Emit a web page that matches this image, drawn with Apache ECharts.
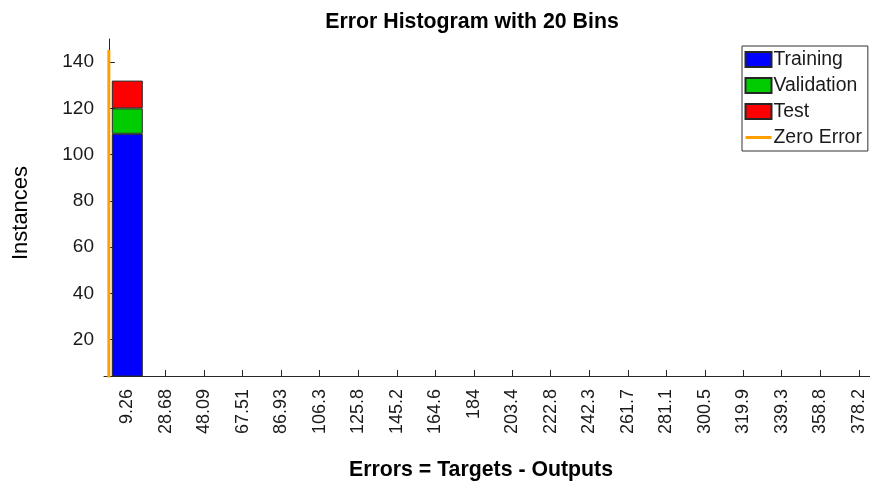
<!DOCTYPE html>
<html>
<head>
<meta charset="utf-8">
<script src="https://cdn.jsdelivr.net/npm/echarts@6/dist/echarts.min.js"></script>
<style>
html,body{margin:0;padding:0;background:#fff;}
#chart{width:870px;height:487px;}
</style>
</head>
<body>
<div id="chart"></div>
<script>
// Bin centers (tick labels) of the error histogram
var xTickLabels = ['9.26','28.68','48.09','67.51','86.93','106.3','125.8','145.2','164.6','184',
                   '203.4','222.8','242.3','261.7','281.1','300.5','319.9','339.3','358.8','378.2'];
var binCenters = xTickLabels.map(Number);
var training   = [109,0,0,0,0,0,0,0,0,0,0,0,0,0,0,0,0,0,0,0];
var validation = [11,0,0,0,0,0,0,0,0,0,0,0,0,0,0,0,0,0,0,0];
var test       = [12,0,0,0,0,0,0,0,0,0,0,0,0,0,0,0,0,0,0,0];
var yTicks = [20,40,60,80,100,120,140];
var zeroErrorLine = [[0,0],[0,145.2]];

var chart = echarts.init(document.getElementById('chart'), null, {renderer:'canvas'});
var fontFam = '"Liberation Sans", Arial, sans-serif';
var txt = '#1a1a1a';
var barBorder = {borderColor:'#262626', borderWidth:1};
var yMin = 4.25, yMax = 150;

chart.setOption({
  backgroundColor:'#fff',
  animation:false,
  title:{
    text:'Error Histogram with 20 Bins',
    left:467, top:7, textAlign:'center',
    textStyle:{fontFamily:fontFam, fontSize:21.3, fontWeight:'bold', color:'#000'}
  },
  legend:{
    orient:'vertical',
    left:742, top:46,
    padding:[4,6,4,2],
    itemGap:7,
    itemWidth:26, itemHeight:15,
    borderColor:'#333', borderWidth:1,
    backgroundColor:'#fff',
    textStyle:{fontFamily:fontFam, fontSize:19.4, color:txt, padding:[0,3,0,-3]},
    data:[
      {name:'Training', icon:'rect'},
      {name:'Validation', icon:'rect'},
      {name:'Test', icon:'rect'},
      {name:'Zero Error', itemStyle:{opacity:0}, lineStyle:{width:3, color:'#ffa000'}}
    ]
  },
  grid:[
    {left:104, right:0, top:39, bottom:111, containLabel:false},
    // bin grid: 20 bins of equal width aligned with the error axis
    {left:108.25, right:-8.25, top:39, bottom:111, containLabel:false}
  ],
  xAxis:[{
    type:'value', gridIndex:0,
    min:-2.44, max:383.8,
    name:'Errors = Targets - Outputs',
    nameLocation:'middle',
    nameGap:84,
    nameTextStyle:{fontFamily:fontFam, fontSize:21.3, fontWeight:'bold', color:'#000', padding:[0,12,0,0]},
    axisLine:{show:true, lineStyle:{color:'#262626', width:1}},
    axisTick:{show:true, inside:true, length:6, customValues:binCenters, lineStyle:{color:'#262626'}},
    axisLabel:{
      customValues:binCenters,
      rotate:90, margin:13,
      fontFamily:fontFam, fontSize:18, color:txt,
      formatter:function(v){
        var i = binCenters.indexOf(v);
        return i >= 0 ? xTickLabels[i] : '';
      }
    },
    splitLine:{show:false}
  },{
    type:'category', gridIndex:1, data:xTickLabels, boundaryGap:true,
    show:false
  }],
  yAxis:[{
    type:'value', gridIndex:0,
    min:yMin, max:yMax,
    name:'Instances',
    nameLocation:'middle',
    nameGap:72,
    nameTextStyle:{fontFamily:fontFam, fontSize:22, color:'#000', padding:[0,11,0,0]},
    axisLine:{show:true, lineStyle:{color:'#262626', width:1}},
    axisTick:{show:true, inside:true, length:6, customValues:yTicks, lineStyle:{color:'#262626'}},
    axisLabel:{customValues:yTicks, margin:10, fontFamily:fontFam, fontSize:19, color:txt},
    splitLine:{show:false}
  },{
    type:'value', gridIndex:1, min:yMin, max:yMax, show:false, splitLine:{show:false}
  }],
  series:[
    {name:'Training', type:'bar', stack:'err', barWidth:31, xAxisIndex:1, yAxisIndex:1,
     itemStyle:Object.assign({color:'#0000ff'}, barBorder), data:training},
    {name:'Validation', type:'bar', stack:'err', barWidth:31, xAxisIndex:1, yAxisIndex:1,
     itemStyle:Object.assign({color:'#00cc00'}, barBorder), data:validation},
    {name:'Test', type:'bar', stack:'err', barWidth:31, xAxisIndex:1, yAxisIndex:1,
     itemStyle:Object.assign({color:'#ff0000'}, barBorder), data:test},
    {name:'Zero Error', type:'line', symbol:'none', clip:true, xAxisIndex:0, yAxisIndex:0,
     lineStyle:{color:'#ffa000', width:3}, itemStyle:{color:'#ffa000'},
     data:zeroErrorLine, z:5}
  ]
});
</script>
</body>
</html>
